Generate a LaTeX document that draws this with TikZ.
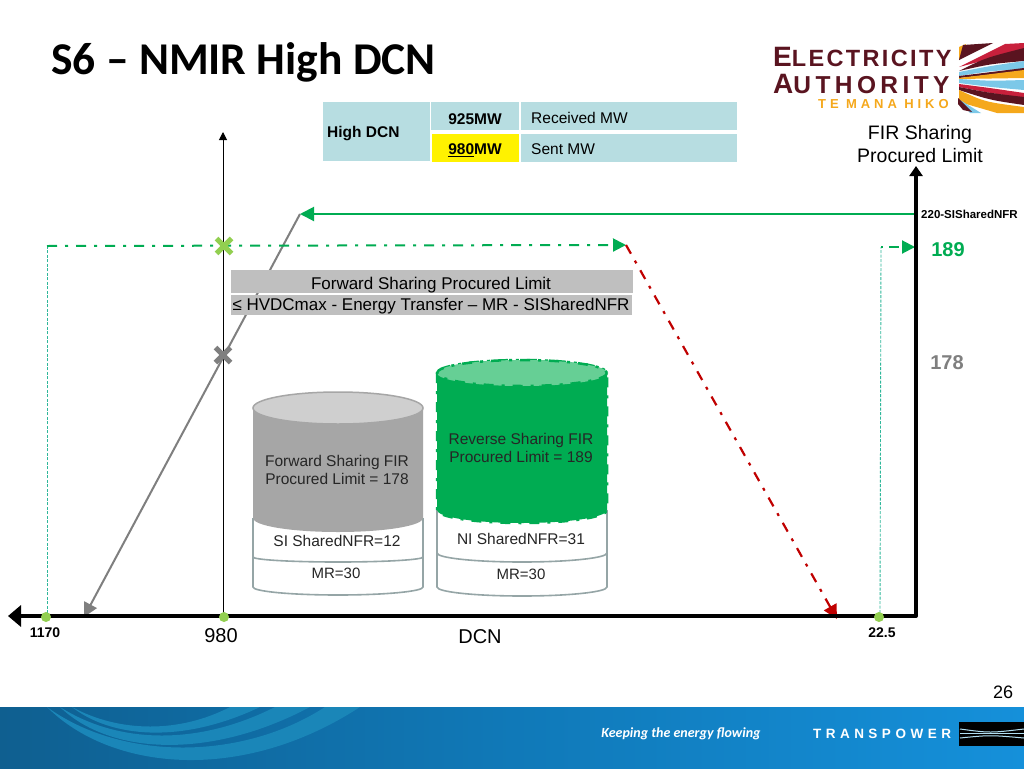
\documentclass[tikz,border=0pt]{standalone}
\usepackage{fontspec}
\setmainfont{Liberation Sans}
\newfontfamily\titlefont{Carlito}
\newfontfamily\logofont[LetterSpace=10]{Liberation Sans}
\newfontfamily\logofontc[LetterSpace=18]{Liberation Sans}
\newfontfamily\logofontb[LetterSpace=30]{Liberation Sans}
\usetikzlibrary{arrows.meta,shapes.misc}
\definecolor{tbl}{HTML}{B7DDE1}
\definecolor{grn}{HTML}{00AC52}
\definecolor{thing}{HTML}{2FB79A}
\definecolor{ltgrn}{HTML}{66CF95}
\definecolor{lime}{HTML}{92CF50}
\definecolor{gry}{HTML}{7F7F7F}
\definecolor{lblgry}{HTML}{BFBFBF}
\definecolor{cyl}{HTML}{A6A6A6}
\definecolor{cyltop}{HTML}{CFCFCF}
\definecolor{cyledge}{HTML}{95A5A6}
\definecolor{redd}{HTML}{C00000}
\definecolor{maroon}{HTML}{5A1420}
\definecolor{amber}{HTML}{F5A81C}
\definecolor{skyb}{HTML}{7CC8E8}
\definecolor{crim}{HTML}{C8203C}
\definecolor{footl}{HTML}{0F5F90}
\definecolor{footm}{HTML}{1079B8}
\definecolor{footr}{HTML}{1590DA}
\definecolor{swoosh}{HTML}{1A86B8}
\tikzset{
  x=1pt,y=-1pt,
  fs/.style={font=\fontsize{#1}{#1}\selectfont},
  txt/.style={inner sep=0pt,text=black},
  cell/.style={fill=tbl,draw=none,inner sep=0pt,anchor=north west},
  axisline/.style={line width=4pt,black},
  dot/.style={circle,fill=lime,draw=none,minimum size=10pt,inner sep=0pt},
  crossmark/.style={cross out,line width=5pt,minimum size=10pt,inner sep=0pt},
  bar/.style={fill=lblgry,inner sep=0pt,anchor=north west},
  dashdot/.style={dash pattern=on 10pt off 8pt on 3pt off 8pt},
  thindash/.style={thing,line width=0.9pt,dash pattern=on 3pt off 1.5pt},
  cyledgeline/.style={draw=cyledge,line width=1.6pt},
}
\begin{document}
\begin{tikzpicture}
\useasboundingbox (0,0) rectangle (1024,768);
\fill[white] (0,0) rectangle (1024,768);

% Footer
\shade[left color=footl,right color=footr,middle color=footm] (0,707) rectangle (1024,768);
\fill[swoosh] (47,707) .. controls (110,770) and (240,785) .. (360,707) -- (325,707) .. controls (240,762) and (120,760) .. (47,707) -- cycle;
\fill[swoosh] (60,707) .. controls (110,755) and (210,760) .. (310,707) -- (275,707) .. controls (200,745) and (120,745) .. (60,707) -- cycle;
\fill[swoosh] (72,707) .. controls (110,737) and (180,745) .. (260,707) -- (230,707) .. controls (180,733) and (120,733) .. (72,707) -- cycle;
\fill[black] (959,722) rectangle (1024,746);
\draw[skyb!60!white,line width=1pt] (960,729) .. controls (990,733) .. (1024,729);
\draw[skyb!60!white,line width=1pt] (960,733) -- (1024,733);
\draw[skyb!60!white,line width=1pt] (960,738) .. controls (990,735) .. (1024,738);
\node[txt,text=white,fs=14] (slogan) at (681,734) {\fontspec{Carlito}\bfseries\itshape Keeping the energy flowing};
\node[txt,text=white,fs=13.5] (tp) at (882,734) {\bfseries T\,\,R\,\,A\,\,N\,\,S\,\,P\,\,O\,\,W\,\,E\,\,R};
\node[txt,fs=18] (pagenum) at (1003,692) {26};

% Title
\node[txt,anchor=west,fs=45.5] (title) at (51,62) {\titlefont\bfseries S6 – NMIR High DCN};

% Logo
\node[txt,anchor=west,text=maroon] (logoa) at (773,57) {\fontsize{28}{28}\selectfont\logofont\bfseries E\fontsize{23.5}{23.5}\selectfont LECTRICITY};
\node[txt,anchor=west,text=maroon] (logob) at (773,84) {\fontsize{28}{28}\selectfont\logofontc\bfseries A\fontsize{24.5}{24.5}\selectfont UTHORITY};
\node[txt,anchor=west,text=amber,fs=13] (logoc) at (818,104) {\logofontb\bfseries TE MANA HIKO};
\begin{scope}
\fill[amber] (959,47) -- (966,44) -- (961,58) -- (959,60) -- cycle;
\fill[maroon] (959,60) -- (963,45) -- (993,43) -- cycle;
\fill[crim] (959,67) -- (1005,44) -- (1024,43) -- (1024,50) -- cycle;
\fill[maroon] (959,71) .. controls (985,58) .. (1024,48) -- (1024,61) .. controls (990,64) .. (959,71) -- cycle;
\fill[skyb] (959,72) .. controls (990,66) .. (1024,61) -- (1024,69) .. controls (990,71) .. (959,76) -- cycle;
\fill[maroon] (959,76) -- (1024,68) -- (1024,71) -- (959,78) -- cycle;
\fill[amber] (959,78) -- (1024,70) -- (1024,78) -- (959,79) -- cycle;
\fill[skyb] (959,79) .. controls (990,81) .. (1024,80) -- (1024,90) .. controls (990,87) .. (959,83) -- cycle;
\fill[crim] (959,84) .. controls (990,88) .. (1024,93) -- (1024,98) .. controls (990,93) .. (959,87) -- cycle;
\fill[maroon] (959,87) .. controls (990,93) .. (1024,97) -- (1024,105) .. controls (990,100) .. (959,90) -- cycle;
\fill[amber] (959,90) .. controls (985,102) .. (1024,107) -- (1024,113) -- (997,113) .. controls (980,108) .. (959,102) -- cycle;
\fill[skyb] (960,100) -- (981,113) -- (970,113) -- cycle;
\fill[maroon] (958,98) -- (972,112) -- (963,110) -- (958,104) -- cycle;
\end{scope}

% Table
\node[cell,minimum width=107pt,minimum height=59pt] (c0) at (323,102) {};
\node[txt,anchor=west,fs=15.5] (c0t) at (327,134) {\bfseries High DCN};
\node[cell,minimum width=88pt,minimum height=28pt] (c1) at (431,102) {};
\node[txt,fs=15.5] (c1t) at (475,119) {\bfseries 925MW};
\node[cell,minimum width=216pt,minimum height=28pt] (c2) at (521,102) {};
\node[txt,anchor=west,fs=15.5] (c2t) at (531,118) {Received MW};
\node[cell,fill=yellow,minimum width=87pt,minimum height=28pt] (c3) at (432,134) {};
\node[txt,fs=15.5] (c3t) at (475,150) {\bfseries \underline{980}MW};
\node[cell,minimum width=216pt,minimum height=28pt] (c4) at (521,134) {};
\node[txt,anchor=west,fs=15.5] (c4t) at (531,149) {Sent MW};

% FIR label
\node[txt,align=center,fs=19.5] (fir) at (920,144) {FIR Sharing\\[4pt]Procured Limit};

% Vertical at 980
\coordinate (v0) at (223,616);
\coordinate (v1) at (223,132);
\draw[black,line width=1pt,-{Triangle[length=8pt,width=8pt]}] (v0) -- (v1);

% Gray trapezoid side
\coordinate (g0) at (300,214);
\coordinate (g1) at (84,617);
\draw[gry,line width=2pt,-{Triangle[length=14pt,width=14pt]}] (g0) -- (g1);

% Green dash-dot at 189
\coordinate (gl) at (47,613);
\coordinate (gc) at (47,246);
\coordinate (gr) at (626,245);
\draw[thindash] (gl) -- (gc);
\draw[grn,line width=2pt,dashdot,-{Triangle[length=13pt,width=13pt]}] (gc) -- (gr);

% Red dash-dot
\coordinate (rb) at (837,619);
\draw[redd,line width=2.2pt,dashdot,-{Triangle[length=14pt,width=14pt]}] (gr) -- (rb);

% Right small green
\coordinate (sl) at (880,613);
\coordinate (st) at (881,247);
\coordinate (sr) at (915,247);
\draw[thindash] (sl) -- (st);
\draw[grn,line width=2pt,dash pattern=on 2pt off 6pt on 10pt off 6pt,-{Triangle[length=13pt,width=13pt]}] (st) -- (sr);

% Green top arrow
\coordinate (ta) at (915,214);
\draw[grn,line width=2pt,-{Triangle[length=14pt,width=14pt]}] (ta) -- (g0);

% Axes
\coordinate (ax0) at (916,616);
\coordinate (axl) at (8,616);
\coordinate (axt) at (916,166);
\draw[axisline,line cap=round,-{Triangle[length=13pt,width=21pt]}] (ax0) -- (axl);
\draw[axisline,-{Triangle[length=10pt,width=13pt]}] (ax0) -- (axt);

% Dots and marks
\node[dot] (d1) at (46,617) {};
\node[dot] (d2) at (224,617) {};
\node[dot] (d3) at (879,617) {};
\node[crossmark,draw=lime] (x1) at (224,246) {};
\node[crossmark,draw=gry] (x2) at (223,355) {};

% Gray label
\node[bar,minimum width=402pt,minimum height=23pt] (b1) at (231,270) {};
\node[bar,minimum width=401pt,minimum height=20pt] (b2) at (231,295) {};
\node[txt,fs=17] (b1t) at (431,285) {Forward Sharing Procured Limit};
\node[txt,fs=17] (b2t) at (431,306) {≤ HVDCmax - Energy Transfer – MR - SISharedNFR};

% Gray cylinder
\fill[white] (253,518) -- (253,587) arc[start angle=180,end angle=0,x radius=85,y radius=8] -- (423,518) -- cycle;
\draw[cyledgeline] (253,518) -- (253,587) arc[start angle=180,end angle=0,x radius=85,y radius=8] -- (423,518);
\draw[cyledgeline] (253,557) arc[start angle=180,end angle=0,x radius=85,y radius=5];
\fill[cyl] (253,408) -- (253,518) arc[start angle=180,end angle=0,x radius=85,y radius=14] -- (423,408) arc[start angle=0,end angle=-180,x radius=85,y radius=16] -- cycle;
\fill[cyltop] (338,408) ellipse[x radius=85,y radius=16];
\draw[draw=cyl,line width=1.5pt] (338,408) ellipse[x radius=85,y radius=16];
\node[txt,align=center,text=black!85,fs=15.5] (gt) at (337,470) {Forward Sharing FIR\\[3pt]Procured Limit = 178};
\node[txt,text=black!85,fs=15.5] (gs) at (337,541) {SI SharedNFR=12};
\node[txt,text=black!85,fs=15] (gm) at (336,573) {MR=30};

% Green cylinder
\fill[white] (437,510) -- (437,587) arc[start angle=180,end angle=0,x radius=85,y radius=9] -- (607,510) -- cycle;
\draw[cyledgeline] (437,510) -- (437,587) arc[start angle=180,end angle=0,x radius=85,y radius=9] -- (607,510);
\draw[cyledgeline] (437,553) arc[start angle=180,end angle=0,x radius=85,y radius=9];
\fill[grn] (437,373) -- (437,510) arc[start angle=180,end angle=0,x radius=85,y radius=13] -- (607,373) arc[start angle=0,end angle=-180,x radius=85,y radius=13] -- cycle;
\draw[grn,line width=2.5pt,dashdot] (437,373) -- (437,510) arc[start angle=180,end angle=0,x radius=85,y radius=13] -- (607,373) arc[start angle=0,end angle=-180,x radius=85,y radius=13] -- cycle;
\fill[ltgrn] (522,373) ellipse[x radius=85,y radius=13];
\draw[grn,line width=2.5pt,dashdot] (522,373) ellipse[x radius=85,y radius=13];
\node[txt,align=center,text=black!85,fs=15.5] (rt) at (521,448) {Reverse Sharing FIR\\[3pt]Procured Limit = 189};
\node[txt,text=black!85,fs=15.5] (rs) at (521,539) {NI SharedNFR=31};
\node[txt,text=black!85,fs=15] (rm) at (521,574) {MR=30};

% Axis labels
\node[txt,fs=14] (l1170) at (45,633) {\bfseries 1170};
\node[txt,fs=20] (l980) at (221,636) {980};
\node[txt,fs=20] (ldcn) at (480,637) {DCN};
\node[txt,fs=14] (l225) at (882,633) {\bfseries 22.5};
\node[txt,anchor=west,fs=11.5] (l220) at (921,214) {\bfseries 220-SISharedNFR};
\node[txt,text=grn,fs=20] (l189) at (948,250) {\bfseries 189};
\node[txt,text=gry,fs=20] (l178) at (947,363) {\bfseries 178};
\end{tikzpicture}
\end{document}
